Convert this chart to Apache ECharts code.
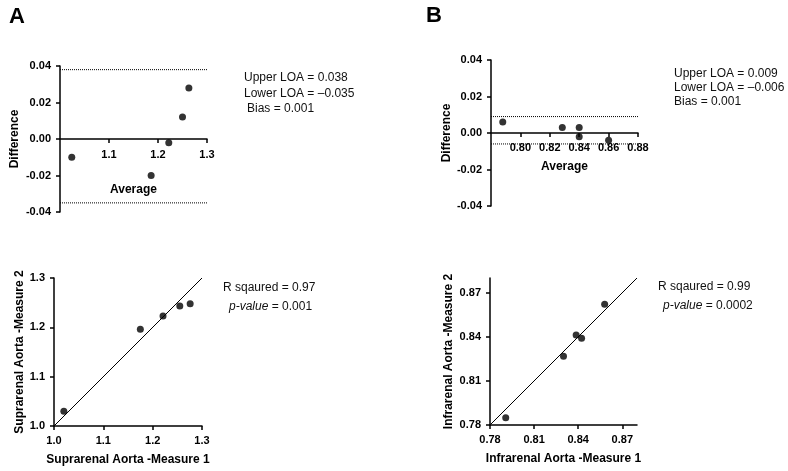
<!DOCTYPE html>
<html>
<head>
<meta charset="utf-8">
<script src="https://cdn.jsdelivr.net/npm/echarts@6/dist/echarts.min.js"></script>
<style>
html,body{margin:0;padding:0;background:#fff;}
#chart{width:788px;height:471px;}
</style>
</head>
<body>
<div id="chart"></div>
<script>
// ---- Data ----
// Panel A (Suprarenal) Bland-Altman: [average, difference]
var baA_avg  = [1.024, 1.186, 1.222, 1.250, 1.263];
var baA_diff = [-0.010, -0.020, -0.002, 0.012, 0.028];
var loaA = [0.038, -0.035];
// Panel B (Infrarenal) Bland-Altman
var baB_avg  = [0.788, 0.8285, 0.840, 0.840, 0.860];
var baB_diff = [0.006, 0.003, 0.003, -0.002, -0.004];
var loaB = [0.009, -0.006];
// Panel A correlation: measure1, measure2
var corA_m1 = [1.020, 1.175, 1.221, 1.255, 1.276];
var corA_m2 = [1.030, 1.196, 1.223, 1.243, 1.248];
var identA = [1.0, 1.3];
// Panel B correlation
var corB_m1 = [0.7907, 0.830, 0.8386, 0.8423, 0.858];
var corB_m2 = [0.785, 0.8268, 0.8412, 0.839, 0.8621];
var identB = [0.78, 0.88];

var baTicksY = [-0.04, 0.04, 0.02];        // min, max, interval
var baA_x = [1.0, 1.3, 0.1];
var baB_x = [0.78, 0.88, 0.02];
var corA_axis = [1.0, 1.3, 0.1];
var corB_axis = [0.78, 0.88, 0.03];

function pairs(a, b){ return a.map(function(v,i){ return [v, b[i]]; }); }

var FONT = '"Liberation Sans", Arial, Helvetica, sans-serif';
var axisTick = {show:true, length:4, lineStyle:{color:'#000', width:1.5}};
function lab(dec, extra){
  var o = {color:'#000', fontFamily:FONT, fontWeight:'bold', fontSize:11, margin:9,
    formatter:function(v){ return Number(v).toFixed(dec); }};
  for (var k in extra) o[k]=extra[k];
  return o;
}
var nameStyle = {color:'#000', fontFamily:FONT, fontWeight:'bold', fontSize:12};

function xAx(idx, rng, dec, name, gap, extra, offset){
  return {type:'value', gridIndex:idx, min:rng[0], max:rng[1], interval:rng[2], offset:offset||0,
    axisLine:{show:true, onZero:false, lineStyle:{color:'#000', width:1.5}},
    axisTick:axisTick, splitLine:{show:false},
    axisLabel:lab(dec, extra), name:name, nameLocation:'middle', nameGap:gap, nameTextStyle:nameStyle};
}
function yAx(idx, rng, dec, name, gap, extra){
  return {type:'value', gridIndex:idx, min:rng[0], max:rng[1], interval:rng[2],
    axisLine:{show:true, onZero:false, lineStyle:{color:'#000', width:1.5}}, axisTick:axisTick, splitLine:{show:false},
    axisLabel:lab(dec, extra), name:name, nameLocation:'middle', nameGap:gap, nameTextStyle:nameStyle};
}

var dotStyle = {color:'#000'};
function hLine(xi, rng, v){
  return {type:'line', xAxisIndex:xi, yAxisIndex:xi, symbol:'none', silent:true, z:1,
    lineStyle:{type:'dotted', color:'#000', width:1}, data:[[rng[0], v],[rng[1], v]]};
}

var chart = echarts.init(document.getElementById('chart'), null, {renderer:'canvas'});
var txt = {fontFamily:FONT, fontSize:12, fill:'#111'};
function T(x,y,text){ return {type:'text', left:x, top:y, style:Object.assign({text:text, verticalAlign:'middle'}, txt)}; }

// zero line of Bland-Altman panels sits midway in a symmetric y range
var gridA = {left:60, right:581, top:66, bottom:259};
var gridB = {left:491, right:150, top:60, bottom:265};
var hA = 471 - gridA.top - gridA.bottom, hB = 471 - gridB.top - gridB.bottom;
var offA = -hA * (0 - baTicksY[0]) / (baTicksY[1] - baTicksY[0]);
var offB = -hB * (0 - baTicksY[0]) / (baTicksY[1] - baTicksY[0]);

chart.setOption({
  animation:false,
  backgroundColor:'#fff',
  grid:[
    gridA, gridB,
    {left:54, right:586, top:278, bottom:45},
    {left:490, right:151, top:278, bottom:46}
  ],
  xAxis:[
    xAx(0, baA_x, 1, 'Average', 45, {showMinLabel:false, margin:10}, offA),
    xAx(1, baB_x, 2, 'Average', 28, {showMinLabel:false}, offB),
    xAx(2, corA_axis, 1, 'Suprarenal Aorta -Measure 1', 28, {}),
    xAx(3, corB_axis, 2, 'Infrarenal Aorta -Measure 1', 28, {showMaxLabel:false})
  ],
  yAxis:[
    yAx(0, baTicksY, 2, 'Difference', 39, {}),
    yAx(1, baTicksY, 2, 'Difference', 38, {}),
    yAx(2, corA_axis, 1, 'Suprarenal Aorta -Measure 2', 28, {}),
    yAx(3, corB_axis, 2, 'Infrarenal Aorta -Measure 2', 35, {showMaxLabel:false})
  ],
  series:[
    hLine(0, baA_x, loaA[0]), hLine(0, baA_x, loaA[1]),
    hLine(1, baB_x, loaB[0]), hLine(1, baB_x, loaB[1]),
    {type:'scatter', xAxisIndex:0, yAxisIndex:0, symbolSize:7, itemStyle:dotStyle,
      data:pairs(baA_avg, baA_diff)},
    {type:'scatter', xAxisIndex:1, yAxisIndex:1, symbolSize:7, itemStyle:dotStyle,
      data:pairs(baB_avg, baB_diff)},
    {type:'line', xAxisIndex:2, yAxisIndex:2, symbol:'none', silent:true,
      lineStyle:{color:'#000', width:1}, data:pairs(identA, identA)},
    {type:'scatter', xAxisIndex:2, yAxisIndex:2, symbolSize:7, itemStyle:dotStyle,
      data:pairs(corA_m1, corA_m2)},
    {type:'line', xAxisIndex:3, yAxisIndex:3, symbol:'none', silent:true,
      lineStyle:{color:'#000', width:1}, data:pairs(identB, identB)},
    {type:'scatter', xAxisIndex:3, yAxisIndex:3, symbolSize:7, itemStyle:dotStyle,
      data:pairs(corB_m1, corB_m2)}
  ],
  graphic:[
    {type:'text', left:9, top:6, style:{text:'A', fontFamily:FONT, fontWeight:'bold', fontSize:22, fill:'#000'}},
    {type:'text', left:426, top:5, style:{text:'B', fontFamily:FONT, fontWeight:'bold', fontSize:22, fill:'#000'}},
    T(244, 72, 'Upper LOA = 0.038'),
    T(244, 87.5, 'Lower LOA = \u20130.035'),
    T(247, 103, 'Bias = 0.001'),
    T(674, 68, 'Upper LOA = 0.009'),
    T(674, 82, 'Lower LOA = \u20130.006'),
    T(674, 96, 'Bias = 0.001'),
    T(223, 281.5, 'R sqaured = 0.97'),
    {type:'text', left:229, top:300.5, style:{text:'{i|p-value} = 0.001', verticalAlign:'middle', fontFamily:FONT, fontSize:12, fill:'#111',
      rich:{i:{fontStyle:'italic', fontFamily:FONT, fontSize:12, fill:'#111'}}}},
    T(658, 280.5, 'R sqaured = 0.99'),
    {type:'text', left:663, top:300, style:{text:'{i|p-value} = 0.0002', verticalAlign:'middle', fontFamily:FONT, fontSize:12, fill:'#111',
      rich:{i:{fontStyle:'italic', fontFamily:FONT, fontSize:12, fill:'#111'}}}}
  ]
});
</script>
</body>
</html>
